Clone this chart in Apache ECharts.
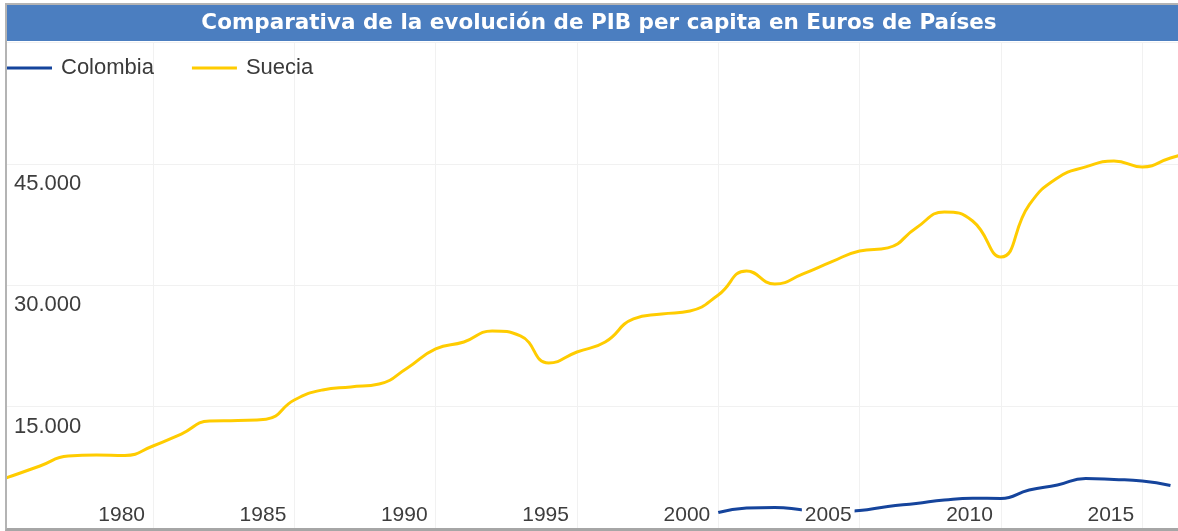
<!DOCTYPE html>
<html>
<head>
<meta charset="utf-8">
<script src="https://cdn.jsdelivr.net/npm/echarts@6/dist/echarts.min.js"></script>
<style>
  html, body { margin: 0; padding: 0; background: #fff; overflow: hidden; width: 1178px; height: 531px; }
  #frame { position: absolute; left: 5px; top: 3px; width: 1240px; height: 523px;
           border-left: 2px solid #b4b4b4; border-top: 2px solid #b4b4b4; border-bottom: 3px solid #a6a6a6; }
  #chart { position: absolute; left: 0; top: 0; width: 1240px; height: 523px; }
</style>
</head>
<body>
<div id="frame"><div id="chart"></div></div>
<script>
const titleText = 'Comparativa de la evolución de PIB per capita en Euros de Países';
const xTickYears = [1980, 1985, 1990, 1995, 2000, 2005, 2010, 2015];
const yTickValues = [15000, 30000, 45000];

const sueciaYears = [1974,1975,1976,1977,1978,1979,1980,1981,1982,1983,1984,1985,1986,1987,1988,1989,
  1990,1991,1992,1993,1994,1995,1996,1997,1998,1999,2000,2001,2002,2003,2004,2005,2006,2007,2008,2009,
  2010,2011,2012,2013,2014,2015,2016,2017];
const sueciaValues = [5300,6430,7670,8900,9030,8970,10140,11620,13230,13290,13450,15830,17070,17440,17810,19790,
  22140,23000,24360,23740,20400,21760,23000,25850,26460,26830,28810,31780,30170,31410,32890,34250,34630,37100,39080,37960,
  33510,39940,43280,44640,45380,44640,45750,46740];

const colombiaYears = [2000,2001,2002,2003,2004,2005,2006,2007,2008,2009,2010,2011,2012,2013,2014,2015,2016];
const colombiaValues = [1920,2470,2540,2230,1920,2160,2660,3030,3460,3690,3650,4700,5320,6120,6000,5810,5260];

const fmt = v => String(Math.round(v)).replace(/\B(?=(\d{3})+(?!\d))/g, '.');

const chart = echarts.init(document.getElementById('chart'), null, { renderer: 'canvas' });
const xMin = 1974.834, xMax = 2018.0;

chart.setOption({
  animation: false,
  backgroundColor: '#fff',
  graphic: [{
    type: 'rect', z: 0, shape: { x: 0, y: 0, width: 1240, height: 36 },
    style: { fill: '#4b7ec0' }
  }, {
    type: 'text', z: 1, x: 592, y: 18.5,
    style: { text: titleText, fill: '#fff', font: 'bold 21.5px "DejaVu Sans"', align: 'center', verticalAlign: 'middle' }
  }],
  legend: {
    data: ['Colombia', 'Suecia'], left: 0, top: 51, padding: 0,
    icon: 'rect', itemWidth: 45, itemHeight: 3, itemGap: 38,
    textStyle: { fontFamily: 'Liberation Sans', fontSize: 22, lineHeight: 24, color: '#3a3a3a', padding: [0, 0, 0, 4] }
  },
  grid: { left: 0, top: 37.7, width: 1220, bottom: 0 },
  xAxis: [{
    type: 'value', min: xMin, max: xMax, position: 'bottom',
    axisLine: { show: false }, axisTick: { show: false, customValues: xTickYears },
    axisLabel: { show: false },
    splitLine: { show: true, lineStyle: { color: '#f1f1f1', width: 1 } }
  }, {
    type: 'value', min: xMin, max: xMax, position: 'bottom', z: 5,
    axisLine: { show: false }, axisTick: { show: false, customValues: xTickYears },
    splitLine: { show: false },
    axisLabel: {
      show: true, inside: true, customValues: xTickYears, margin: 2,
      align: 'right', verticalAlign: 'bottom', padding: [0, 5, 0, 0],
      formatter: v => '{a|' + v + '}',
      rich: { a: { fontFamily: 'Liberation Sans', fontSize: 21, lineHeight: 21, color: '#3d3d3d',
                   backgroundColor: '#fff', padding: [2, 3, 2, 3] } }
    }
  }],
  yAxis: {
    type: 'value', min: 0, max: 60000, interval: 15000,
    axisLine: { show: false }, axisTick: { show: false },
    axisLabel: {
      inside: true, margin: 7, showMinLabel: false, showMaxLabel: false,
      verticalAlign: 'top', padding: [9, 0, 0, 0], align: 'left',
      fontFamily: 'Liberation Sans', fontSize: 22, lineHeight: 22, color: '#3d3d3d',
      formatter: v => (yTickValues.indexOf(v) >= 0 ? fmt(v) : '')
    },
    splitLine: { show: true, lineStyle: { color: '#f1f1f1', width: 1 } }
  },
  series: [{
    name: 'Colombia', type: 'line', xAxisIndex: 0, smooth: true, showSymbol: false,
    data: colombiaYears.map((y, i) => [y, colombiaValues[i]]),
    itemStyle: { color: '#15449c' }, lineStyle: { color: '#15449c', width: 3 }
  }, {
    name: 'Suecia', type: 'line', xAxisIndex: 0, smooth: true, showSymbol: false,
    data: sueciaYears.map((y, i) => [y, sueciaValues[i]]),
    itemStyle: { color: '#ffcc00' }, lineStyle: { color: '#ffcc00', width: 3 }
  }]
});
</script>
</body>
</html>
